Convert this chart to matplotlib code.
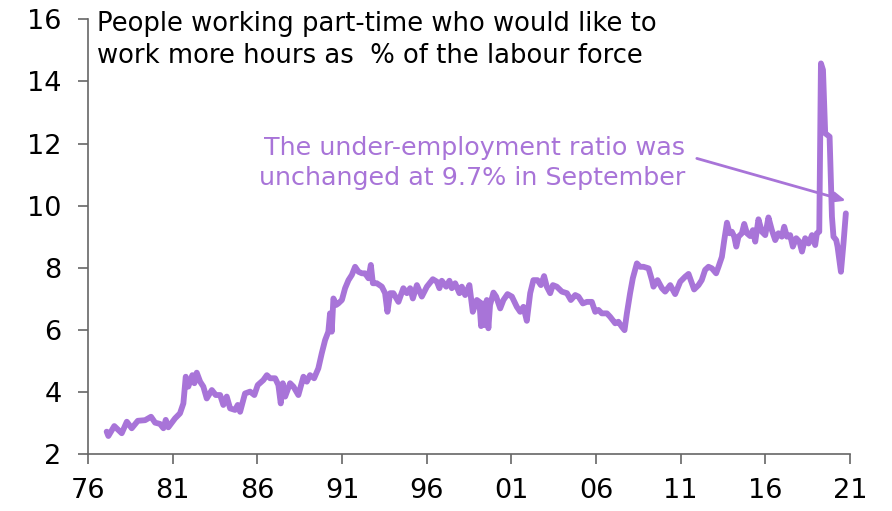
import matplotlib
matplotlib.use("Agg")
import matplotlib.pyplot as plt
import numpy as np

# underemployment ratio, % of labour force
years = [1977.10, 1977.20, 1977.55, 1977.99, 1978.29, 1978.58, 1978.94, 1979.37, 1979.72, 1979.96,
         1980.25, 1980.45, 1980.59, 1980.74, 1981.14, 1981.43, 1981.63, 1981.77, 1981.92, 1982.16,
         1982.28, 1982.42, 1982.62, 1982.81, 1983.01, 1983.31, 1983.54, 1983.80, 1983.99, 1984.19,
         1984.39, 1984.68, 1984.84, 1984.98, 1985.27, 1985.57, 1985.82, 1986.02, 1986.35,
         1986.56, 1986.75, 1987.05, 1987.24, 1987.38, 1987.50, 1987.64, 1987.93, 1988.13, 1988.42,
         1988.72, 1988.92, 1989.11, 1989.35, 1989.60, 1989.80, 1990.00, 1990.19, 1990.29, 1990.39,
         1990.49, 1990.65, 1990.78, 1990.99, 1991.18, 1991.38, 1991.58, 1991.77, 1991.97, 1992.17,
         1992.36, 1992.56, 1992.70, 1992.82, 1993.05, 1993.35, 1993.54, 1993.68, 1993.84, 1994.03,
         1994.33, 1994.62, 1994.83, 1995.02, 1995.18, 1995.42, 1995.71, 1996.01,
         1996.36, 1996.60, 1996.75, 1996.89, 1997.15, 1997.34, 1997.48, 1997.68, 1997.93, 1998.07,
         1998.27, 1998.52, 1998.72, 1998.96, 1999.11, 1999.21, 1999.31, 1999.45, 1999.55, 1999.64,
         1999.74, 1999.94, 2000.10, 2000.34, 2000.53, 2000.77, 2001.03, 2001.32, 2001.52, 2001.71,
         2001.91, 2002.11, 2002.30, 2002.54, 2002.74, 2002.93, 2003.09, 2003.29, 2003.45, 2003.68,
         2003.98, 2004.28, 2004.51, 2004.77, 2004.96, 2005.22, 2005.46, 2005.75, 2005.95, 2006.14,
         2006.34, 2006.64, 2006.83, 2007.13, 2007.32, 2007.52, 2007.68, 2007.82, 2008.01, 2008.17,
         2008.41, 2008.60, 2008.80, 2009.10, 2009.30, 2009.39, 2009.63, 2009.89, 2010.08, 2010.38,
         2010.67, 2010.97, 2011.26, 2011.46, 2011.66, 2011.79, 2012.05, 2012.24, 2012.44, 2012.64,
         2012.84, 2013.09, 2013.23, 2013.43, 2013.57, 2013.73, 2013.88, 2014.02, 2014.16, 2014.28,
         2014.41, 2014.61, 2014.75, 2014.91, 2015.10, 2015.26, 2015.40, 2015.59, 2015.79, 2015.99,
         2016.18, 2016.38, 2016.58, 2016.77, 2016.97, 2017.11, 2017.27, 2017.46, 2017.62, 2017.82,
         2018.01, 2018.16, 2018.35, 2018.55, 2018.75, 2018.94, 2019.04, 2019.18, 2019.28, 2019.40,
         2019.53, 2019.67, 2019.79, 2019.93, 2020.02, 2020.18, 2020.26, 2020.46, 2020.61, 2020.75]
ratio = [2.72, 2.58, 2.90, 2.67, 3.04, 2.83, 3.07, 3.09, 3.20, 3.01,
         2.97, 2.83, 3.10, 2.86, 3.15, 3.31, 3.63, 4.49, 4.17, 4.54,
         4.28, 4.62, 4.33, 4.17, 3.79, 4.06, 3.90, 3.90, 3.58, 3.85,
         3.47, 3.42, 3.58, 3.36, 3.95, 4.01, 3.90, 4.22, 4.38,
         4.54, 4.44, 4.44, 4.22, 3.63, 4.28, 3.85, 4.28, 4.17, 3.90,
         4.49, 4.33, 4.54, 4.44, 4.76, 5.24, 5.67, 5.94, 6.53, 5.94,
         7.01, 6.80, 6.85, 6.96, 7.34, 7.60, 7.77, 8.03, 7.87, 7.82,
         7.82, 7.66, 8.09, 7.50, 7.50, 7.39, 7.18, 6.58, 7.18, 7.18,
         6.90, 7.34, 7.18, 7.34, 7.01, 7.44, 7.07, 7.39,
         7.63, 7.55, 7.34, 7.58, 7.39, 7.58, 7.34, 7.50, 7.18, 7.39,
         7.12, 7.44, 6.58, 6.96, 6.90, 6.12, 6.85, 6.15, 6.96, 6.05,
         6.80, 7.20, 7.07, 6.69, 6.96, 7.15, 7.07, 6.74, 6.58, 6.74,
         6.29, 7.18, 7.60, 7.60, 7.44, 7.73, 7.39, 7.18, 7.44, 7.39,
         7.23, 7.18, 6.96, 7.12, 7.07, 6.85, 6.90, 6.90, 6.58, 6.64,
         6.53, 6.53, 6.42, 6.21, 6.26, 6.10, 5.99, 6.53, 7.18, 7.66,
         8.14, 8.03, 8.03, 7.98, 7.60, 7.39, 7.60, 7.34, 7.23, 7.44,
         7.15, 7.55, 7.71, 7.80, 7.50, 7.30, 7.44, 7.60, 7.93, 8.03,
         7.98, 7.82, 8.03, 8.35, 8.89, 9.45, 9.11, 9.16, 9.00, 8.68,
         9.00, 9.11, 9.41, 9.11, 9.02, 9.21, 8.84, 9.56, 9.16, 9.05,
         9.62, 9.21, 8.89, 9.11, 9.00, 9.32, 9.00, 9.05, 8.68, 8.95,
         8.84, 8.52, 8.95, 8.78, 9.05, 8.73, 9.11, 9.16, 14.58, 14.37,
         12.33, 12.27, 12.22, 9.64, 9.00, 8.89, 8.68, 7.87, 8.78, 9.75]

xticks = [1976, 1981, 1986, 1991, 1996, 2001, 2006, 2011, 2016, 2021]
xlabels = ["76", "81", "86", "91", "96", "01", "06", "11", "16", "21"]
yticks = [2, 4, 6, 8, 10, 12, 14, 16]

purple = "#a874d8"

plt.rcParams['font.family'] = ['DejaVu Sans']
fig = plt.figure(figsize=(8.92, 5.11), dpi=100)
ax = fig.add_axes([0.0987, 0.1115, 0.8543, 0.8507])

ax.plot(years, ratio, color=purple, linewidth=4.2, solid_joinstyle="round", solid_capstyle="round")

ax.set_xlim(1976, 2021)
ax.set_ylim(2, 16)
ax.set_xticks(xticks)
ax.set_xticklabels(xlabels)
ax.set_yticks(yticks)

for s in ["top", "right"]:
    ax.spines[s].set_visible(False)
for s in ["left", "bottom"]:
    ax.spines[s].set_color("#666666")
    ax.spines[s].set_linewidth(1.2)
ax.tick_params(axis="both", direction="out", length=7, width=1.2, color="#666666",
               labelsize=19.5, labelcolor="black")
ax.tick_params(axis="y", pad=12)
ax.tick_params(axis="x", pad=10)

fig.text(0.109, 0.978, "People working part-time who would like to\nwork more hours as  % of the labour force",
         fontsize=18.6, va="top", ha="left", linespacing=1.3)

fig.text(0.768, 0.681, "The under-employment ratio was\nunchanged at 9.7% in September",
         fontsize=18.3, color=purple, va="center", ha="right", multialignment="right",
         linespacing=1.33)

ax.annotate("", xy=(2020.75, 10.16), xytext=(2011.95, 11.52),
            arrowprops=dict(arrowstyle="-|>,head_length=0.7,head_width=0.3",
                            color=purple, lw=2, shrinkA=0, shrinkB=0))

fig.savefig("out.png", dpi=100)
